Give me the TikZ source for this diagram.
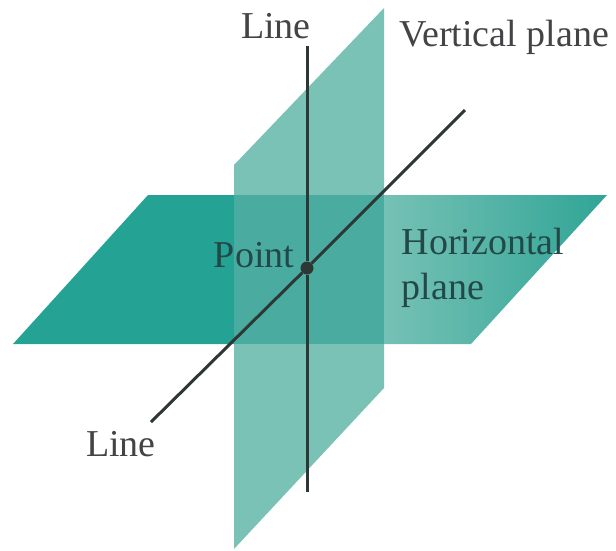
\documentclass[tikz,border=0pt]{standalone}
\usepackage{fontspec}
\setmainfont{Liberation Serif}
\usepackage{tikz}
\definecolor{horizcol}{RGB}{36,163,148}
\definecolor{horizlight}{RGB}{118,193,181}
\definecolor{horizdark}{RGB}{48,165,150}
\definecolor{vertcol}{RGB}{122,194,182}
\definecolor{overlapcol}{RGB}{74,172,160}
\definecolor{textcol}{RGB}{35,72,72}
\definecolor{outercol}{RGB}{68,68,70}
\definecolor{linecol}{RGB}{45,55,52}

\begin{document}
\begin{tikzpicture}[
    x=1pt, y=-1pt,
    lbl/.style={font=\fontsize{38}{45}\selectfont, text=textcol, align=left, inner sep=0pt},
    outer/.style={lbl, text=outercol},
    ln/.style={draw=linecol, line width=3pt}
]
\useasboundingbox (0,0) rectangle (616,550);
% horizontal plane
\fill[horizcol] (148,195) -- (234,195) -- (234,344) -- (13,344) -- cycle;
\shade[left color=horizlight, right color=horizdark] (384,195) -- (607,195) -- (471,344) -- (384,344) -- cycle;
% vertical plane
\fill[vertcol] (234,165) -- (384,8) -- (384,388) -- (234,549) -- cycle;
\fill[overlapcol] (234,195) -- (384,195) -- (384,344) -- (234,344) -- cycle;
% lines
\coordinate (vtop) at (307,46);
\coordinate (vbot) at (307,492);
\coordinate (dtop) at (465,110);
\coordinate (dbot) at (151,422);
\node[circle, fill=linecol, inner sep=0pt, minimum size=13pt] (pt) at (307,268) {};
\draw[ln] (vtop) -- (pt) -- (vbot);
\draw[ln] (dbot) -- (pt) -- (dtop);
% labels
\node[outer] (linetop) at (276,26) {Line};
\node[outer] (vertlbl) at (504,37) {Vertical plane};
\node[lbl] (pointlbl) at (254,255) {Point};
\node[lbl] (horizlbl) at (483,268) {Horizontal\\plane};
\node[outer] (linebot) at (121,444) {Line};
\end{tikzpicture}
\end{document}
